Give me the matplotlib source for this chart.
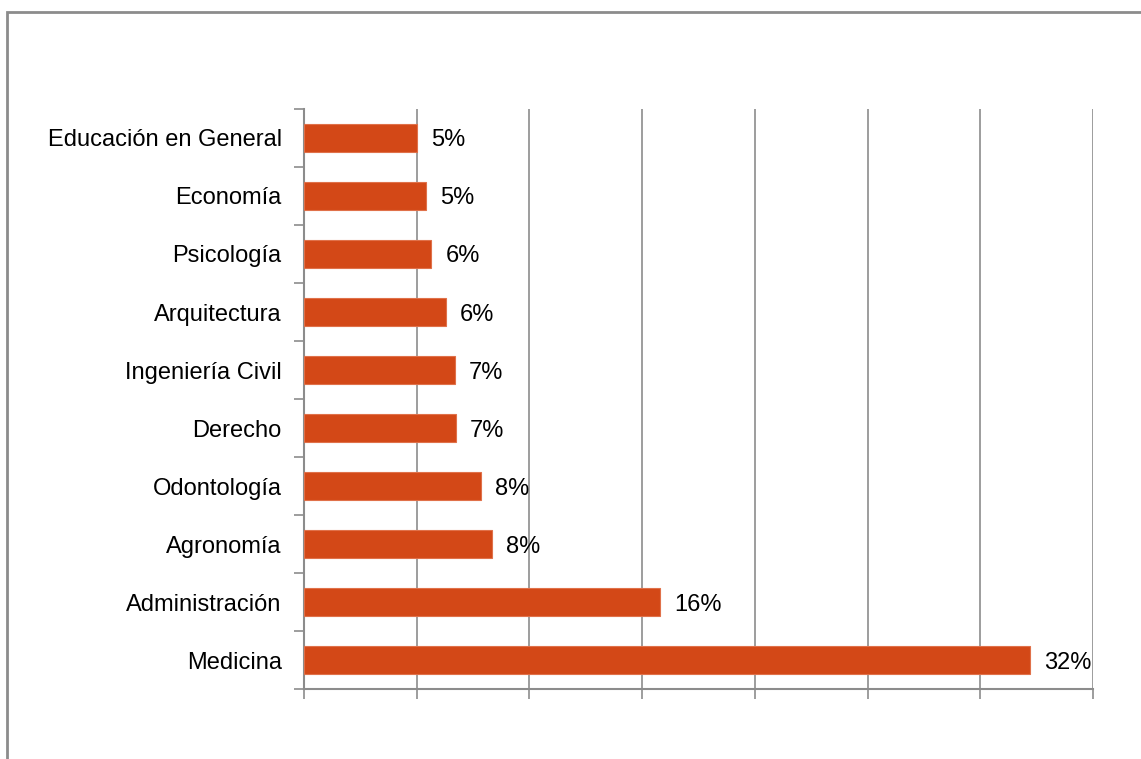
import matplotlib.pyplot as plt
from matplotlib.patches import Rectangle
from matplotlib.ticker import MultipleLocator, FixedLocator, NullFormatter

# categories from bottom to top, as they appear
carreras = ["Medicina", "Administración", "Agronomía", "Odontología", "Derecho",
            "Ingeniería Civil", "Arquitectura", "Psicología", "Economía",
            "Educación en General"]
porcentajes = [32.2, 15.8, 8.35, 7.85, 6.75, 6.7, 6.3, 5.65, 5.4, 5.0]
etiquetas = ["32%", "16%", "8%", "8%", "7%", "7%", "6%", "6%", "5%", "5%"]

plt.rcParams['font.family'] = ['Liberation Sans', 'DejaVu Sans']

fig = plt.figure(figsize=(11.41, 7.59), dpi=100)
ax = fig.add_axes([0.2664, 0.0922, 0.6915, 0.7642])

grey = "#8c8c8c"
y = list(range(len(carreras)))
ax.barh(y, porcentajes, height=0.49, color="#d34817", edgecolor="#e0714a", linewidth=0.8, zorder=3)

for yi, v, t in zip(y, porcentajes, etiquetas):
    ax.text(v + 0.62, yi, t, va="center_baseline", ha="left", fontsize=17, color="black")

ax.set_xlim(0, 35)
ax.set_ylim(-0.5, len(carreras) - 0.5)
ax.xaxis.set_major_locator(MultipleLocator(5))
ax.xaxis.set_major_formatter(NullFormatter())
ax.grid(axis="x", color=grey, linewidth=1.2, zorder=0)

ax.set_yticks(y)
ax.set_yticklabels(carreras, fontsize=17)
ax.yaxis.set_minor_locator(FixedLocator([i - 0.5 for i in range(len(carreras) + 1)]))
ax.tick_params(axis="y", which="major", length=0, pad=16)
ax.tick_params(axis="y", which="minor", length=7, color=grey, width=1.2)
ax.tick_params(axis="x", which="major", length=7, color=grey, width=1.2)

for side in ["top", "right"]:
    ax.spines[side].set_visible(False)
for side in ["left", "bottom"]:
    ax.spines[side].set_color(grey)
    ax.spines[side].set_linewidth(1.5)

# outer chart border (partly off canvas)
fig.patches.append(Rectangle((7 / 1141, -0.05), 1.2, 1 - 11.5 / 759 + 0.05,
                             transform=fig.transFigure, fill=False,
                             edgecolor=grey, linewidth=2))

fig.savefig("out.png", dpi=100)
